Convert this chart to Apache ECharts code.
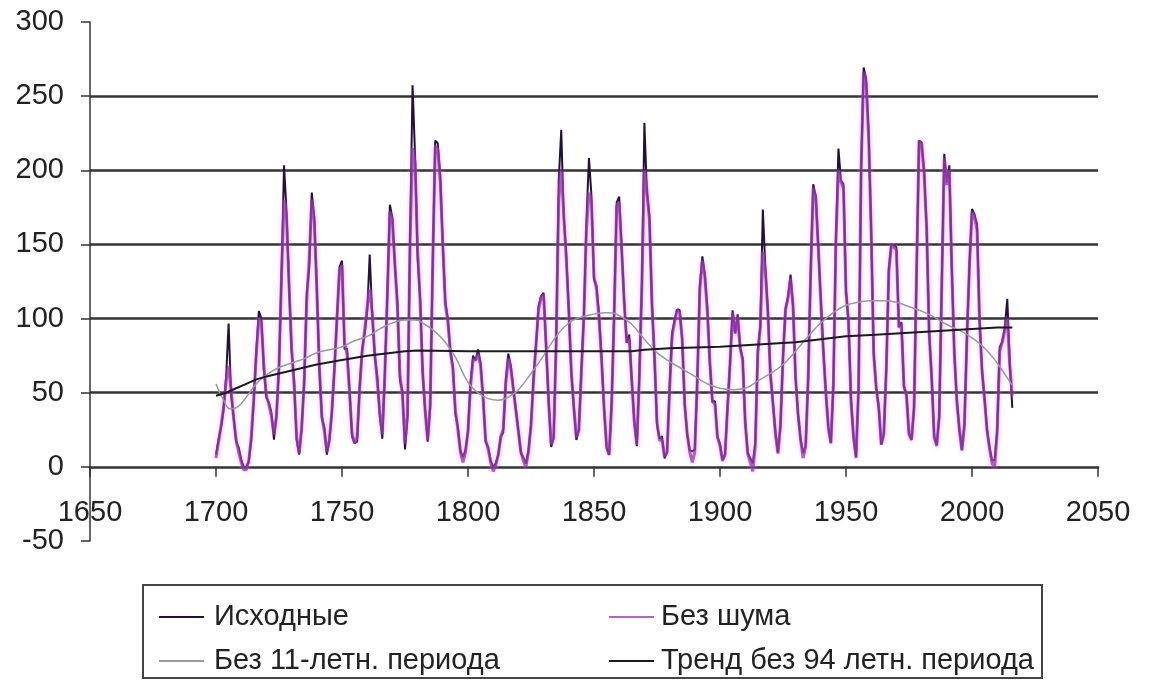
<!DOCTYPE html>
<html>
<head>
<meta charset="utf-8">
<title>Солнечная активность</title>
<script src="https://cdn.jsdelivr.net/npm/echarts@6/dist/echarts.min.js"></script>
<style>
html, body { margin: 0; padding: 0; background: #fff; }
#container { width: 1150px; height: 680px; }
</style>
</head>
<body>
<div id="container"></div>
<script>
// годовые числа Вольфа, начиная с 1700 г.
var startYear = 1700;

var rawValues = [
    8.3, 18.3, 26.7, 38.3, 60.0, 96.7, 48.3, 33.3, 16.7, 13.3,
    5.0, 0.0, 0.0, 3.3, 18.3, 45.0, 78.3, 105.0, 100.0, 65.0,
    46.7, 43.3, 36.7, 18.3, 35.0, 66.7, 130.0, 203.3, 171.7, 121.7,
    78.3, 58.3, 18.3, 8.3, 26.7, 56.7, 116.7, 135.0, 185.0, 168.3,
    121.7, 66.7, 33.3, 26.7, 8.3, 18.3, 36.7, 66.7, 100.0, 134.8,
    139.0, 79.5, 79.7, 51.2, 20.3, 16.0, 17.0, 54.0, 79.3, 90.0,
    104.8, 143.2, 102.0, 75.2, 60.7, 34.8, 19.0, 63.0, 116.3, 176.8,
    168.0, 136.0, 110.8, 58.0, 51.0, 11.7, 33.0, 154.2, 257.3, 209.8,
    141.3, 113.5, 64.2, 38.0, 17.0, 40.2, 138.2, 220.0, 218.2, 196.8,
    149.8, 111.0, 100.0, 78.2, 68.3, 35.5, 26.7, 10.7, 6.8, 11.3,
    24.2, 56.7, 75.0, 71.8, 79.2, 70.3, 46.8, 16.8, 13.5, 4.2,
    0.0, 2.3, 8.3, 20.3, 23.2, 59.0, 76.3, 68.3, 52.9, 38.5,
    24.2, 9.2, 6.3, 2.2, 11.4, 28.2, 59.9, 83.0, 108.5, 115.2,
    117.4, 80.8, 44.3, 13.4, 19.5, 85.8, 192.7, 227.3, 168.7, 143.0,
    105.5, 63.3, 40.3, 18.1, 25.1, 65.8, 102.7, 166.3, 208.3, 182.5,
    126.3, 122.0, 102.7, 74.1, 39.0, 12.7, 8.2, 43.4, 104.4, 178.3,
    182.2, 146.6, 112.1, 83.5, 89.2, 57.8, 30.7, 13.9, 62.8, 123.6,
    232.0, 185.3, 169.2, 110.1, 74.5, 28.3, 18.9, 20.7, 5.7, 10.0,
    53.7, 90.5, 99.0, 106.1, 105.8, 86.3, 42.4, 21.8, 11.2, 10.4,
    11.8, 59.5, 121.7, 142.0, 130.0, 106.6, 69.4, 43.8, 44.4, 20.2,
    15.7, 4.6, 8.5, 40.8, 70.1, 105.5, 90.1, 102.8, 80.9, 73.2,
    30.9, 9.5, 6.0, 2.4, 16.1, 79.0, 95.0, 173.6, 134.6, 105.7,
    62.7, 43.5, 23.7, 9.7, 27.9, 74.0, 106.5, 114.7, 129.7, 108.2,
    59.4, 35.1, 18.6, 9.2, 14.6, 60.2, 132.8, 190.6, 182.6, 148.0,
    113.0, 79.2, 50.8, 27.1, 16.1, 55.3, 154.3, 214.7, 193.0, 190.7,
    118.9, 98.3, 45.0, 20.1, 6.6, 54.2, 200.7, 269.3, 261.7, 225.1,
    159.0, 76.4, 53.4, 39.9, 15.0, 22.0, 66.8, 132.9, 150.0, 149.4,
    148.0, 94.4, 97.6, 54.1, 49.2, 22.5, 18.4, 39.3, 131.0, 220.1,
    218.9, 198.9, 162.4, 91.0, 60.5, 20.6, 14.8, 33.9, 123.0, 211.1,
    191.8, 203.3, 133.0, 76.1, 44.9, 25.1, 11.6, 28.9, 88.3, 136.3,
    173.9, 170.4, 163.6, 99.3, 65.3, 45.8, 24.7, 12.6, 4.2, 4.8,
    24.9, 80.8, 84.5, 94.0, 113.3, 69.8, 39.8
];

// без шума (сглаженный ряд), те же годы
var noNoiseValues = [
    6, 17, 27, 40, 58, 68, 52, 33, 18, 10,
    3, -2, -2, 4, 20, 46, 76, 100, 98, 68,
    48, 42, 34, 22, 34, 68, 128, 180, 168, 122,
    80, 55, 20, 9, 26, 58, 112, 140, 180, 166,
    120, 68, 34, 24, 10, 18, 38, 66, 100, 132,
    136, 84, 76, 50, 22, 16, 20, 52, 78, 92,
    108, 120, 104, 76, 58, 36, 22, 62, 116, 172,
    166, 136, 108, 62, 48, 16, 36, 150, 215, 205,
    146, 112, 64, 38, 18, 42, 136, 216, 214, 192,
    150, 110, 98, 78, 66, 38, 25, 10, 3, 10,
    24, 54, 72, 72, 76, 68, 46, 18, 12, 3,
    -3, 1, 8, 20, 26, 56, 73, 66, 52, 38,
    24, 10, 4, 0, 10, 28, 58, 82, 106, 114,
    116, 82, 44, 15, 20, 84, 180, 200, 170, 140,
    106, 64, 40, 20, 25, 64, 102, 160, 185, 178,
    128, 120, 100, 72, 40, 14, 8, 42, 102, 176,
    178, 146, 110, 84, 86, 58, 30, 15, 60, 122,
    200, 186, 166, 110, 74, 30, 18, 18, 7, 10,
    52, 88, 98, 106, 104, 86, 42, 22, 10, 3,
    10, 58, 120, 139, 128, 104, 70, 44, 42, 20,
    14, 4, 8, 40, 70, 104, 90, 101, 80, 72,
    30, 9, 3, -3, 14, 76, 94, 145, 132, 104,
    62, 43, 22, 9, 28, 74, 106, 114, 127, 108,
    60, 35, 18, 6, 14, 60, 132, 188, 182, 148,
    112, 78, 50, 26, 16, 56, 152, 200, 192, 188,
    118, 98, 44, 20, 6, 54, 200, 266, 258, 222,
    158, 76, 53, 40, 15, 22, 66, 132, 150, 148,
    146, 94, 96, 54, 48, 22, 18, 40, 130, 220,
    218, 198, 160, 90, 60, 20, 14, 34, 122, 208,
    190, 200, 132, 76, 44, 25, 11, 28, 88, 136,
    172, 168, 160, 98, 64, 45, 24, 12, 2, 0,
    24, 78, 84, 92, 100, 68, 48
];

// без 11-летнего периода
var noCycleYears = [
    1700, 1703, 1706, 1709, 1712, 1716, 1720, 1725, 1730, 1735,
    1740, 1745, 1750, 1755, 1760, 1765, 1770, 1775, 1779, 1783,
    1787, 1791, 1795, 1800, 1804, 1808, 1812, 1816, 1820, 1825,
    1830, 1835, 1840, 1845, 1850, 1855, 1860, 1865, 1870, 1875,
    1880, 1885, 1890, 1895, 1900, 1905, 1910, 1915, 1920, 1925,
    1930, 1935, 1940, 1945, 1950, 1955, 1960, 1965, 1970, 1975,
    1980, 1985, 1990, 1995, 2000, 2005, 2010, 2014, 2016
];
var noCycleValues = [
    56, 45, 39, 41, 47, 56, 62, 67, 70, 73,
    77, 79, 81, 85, 88, 93, 97, 99, 99, 96,
    91, 84, 74, 57, 50, 46, 45, 47, 52, 63,
    75, 88, 97, 101, 103, 104, 102, 96, 86, 77,
    71, 66, 61, 56, 53, 52, 53, 58, 63, 69,
    78, 88, 97, 104, 109, 111, 112, 112, 111, 108,
    105, 101, 96, 92, 87, 80, 70, 60, 55
];

// тренд без 94-летнего периода
var trendYears = [
    1700, 1704, 1708, 1712, 1716, 1720, 1725, 1730, 1740, 1750,
    1760, 1770, 1775, 1780, 1800, 1820, 1840, 1865, 1870, 1880,
    1890, 1900, 1910, 1920, 1930, 1940, 1950, 1960, 1970, 1980,
    1990, 2000, 2010, 2016
];
var trendValues = [
    48, 50, 53, 56, 59, 61, 63, 65, 69, 72,
    75, 77, 78, 78.5, 78, 78, 78, 78, 79, 80,
    80.5, 81, 82, 83, 84, 86, 88, 89, 90, 91,
    92, 93, 94, 94
];

var seriesNames = ['Исходные', 'Без шума', 'Без 11-летн. периода', 'Тренд без 94 летн. периода'];

function yearly(values) {
    return values.map(function (v, i) { return [startYear + i, v]; });
}
function pairs(years, values) {
    return values.map(function (v, i) { return [years[i], v]; });
}

var textFont = {fontFamily: '"Liberation Sans", Arial, sans-serif', fontSize: 29, color: '#222'};

// одна запись легенды = один компонент legend, чтобы выстроить 2 колонки
function legendItem(name, left, top, gap) {
    return {
        data: [name],
        left: left,
        top: top,
        itemWidth: 45,
        itemHeight: 14,
        itemStyle: {opacity: 0},
        lineStyle: {width: 2, shadowBlur: 0},
        textStyle: Object.assign({lineHeight: 30, padding: [0, 0, 0, gap]}, textFont)
    };
}

var myChart = echarts.init(document.getElementById('container'));
var option = {
    animation: false,
    grid: {left: 90, right: 52, top: 22, bottom: 139},
    xAxis: {
        type: 'value',
        min: 1650,
        max: 2050,
        interval: 50,
        axisLine: {onZero: true, lineStyle: {color: '#333', width: 2.5}},
        axisTick: {show: true, inside: false, length: 10, lineStyle: {color: '#333', width: 1.5}},
        axisLabel: Object.assign({
            margin: -43,
            formatter: function (v) { return String(v); }
        }, textFont),
        splitLine: {show: false}
    },
    yAxis: {
        type: 'value',
        min: -50,
        max: 300,
        interval: 50,
        axisLine: {show: true, onZero: false, lineStyle: {color: '#333', width: 1.5}},
        axisTick: {show: true, length: 9, lineStyle: {color: '#333', width: 1.5}},
        axisLabel: Object.assign({margin: 26}, textFont),
        splitLine: {
            show: true,
            lineStyle: {
                color: ['transparent', 'transparent', '#333', '#333', '#333', '#333', '#333', 'transparent'],
                width: 2.5
            }
        }
    },
    legend: [
        legendItem(seriesNames[0], 153, 597, 5),
        legendItem(seriesNames[2], 153, 641, 5),
        legendItem(seriesNames[1], 603, 597, 2),
        legendItem(seriesNames[3], 603, 641, 2)
    ],
    graphic: [{
        type: 'rect',
        shape: {x: 143, y: 585, width: 899, height: 93},
        style: {fill: 'none', stroke: '#444', lineWidth: 2},
        z: 0
    }],
    series: [
        {
            name: seriesNames[0],
            type: 'line',
            data: yearly(rawValues),
            symbol: 'none',
            z: 2,
            lineStyle: {color: '#22103f', width: 2},
            itemStyle: {color: '#22103f'}
        },
        {
            name: seriesNames[1],
            type: 'line',
            data: yearly(noNoiseValues),
            symbol: 'none',
            z: 3,
            lineStyle: {
                color: 'rgba(150,45,175,0.72)',
                width: 3,
                shadowColor: 'rgba(220,140,232,0.75)',
                shadowBlur: 4
            },
            itemStyle: {color: '#b064bc'}
        },
        {
            name: seriesNames[2],
            type: 'line',
            data: pairs(noCycleYears, noCycleValues),
            symbol: 'none',
            smooth: true,
            z: 4,
            lineStyle: {color: '#9a9a9a', width: 1.5},
            itemStyle: {color: '#9a9a9a'}
        },
        {
            name: seriesNames[3],
            type: 'line',
            data: pairs(trendYears, trendValues),
            symbol: 'none',
            z: 5,
            lineStyle: {color: '#1a1a1a', width: 2},
            itemStyle: {color: '#1a1a1a'}
        }
    ]
};
myChart.setOption(option);
</script>
</body>
</html>
